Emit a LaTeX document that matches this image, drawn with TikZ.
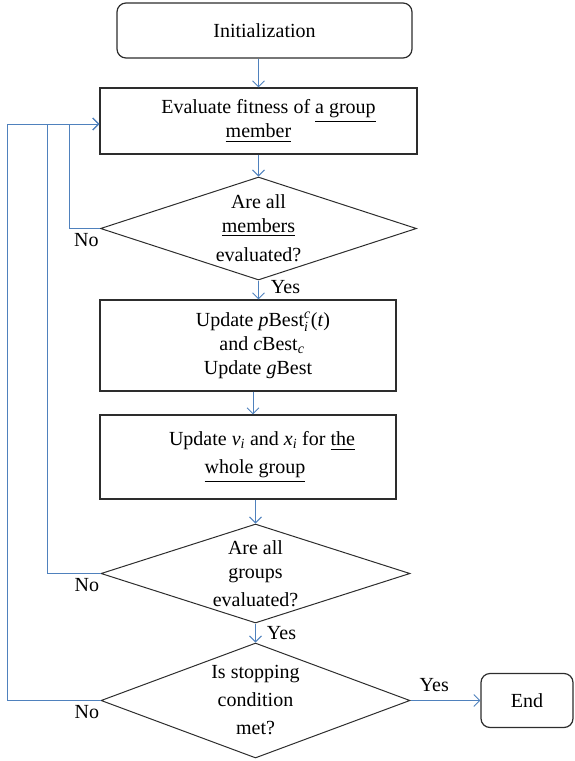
\documentclass[tikz,border=0pt]{standalone}
\usepackage{amsmath}
\usepackage{fontspec}
\setmainfont{Liberation Serif}
\usetikzlibrary{arrows.meta,shapes.geometric,positioning}
\definecolor{linkblue}{RGB}{79,129,189}
\definecolor{boxgray}{RGB}{45,45,45}

\begin{document}
\begin{tikzpicture}[x=1pt,y=-1pt,
  every node/.style={font=\fontsize{20}{24}\selectfont},
  box/.style={draw=boxgray,line width=1.2pt,rectangle,align=center,inner sep=0pt},
  term/.style={box,rounded corners=9pt},
  decision/.style={draw=boxgray,line width=1pt,diamond,aspect=3,align=center,inner sep=0pt},
  link/.style={draw=linkblue,line width=0.9pt,-{Straight Barb[length=6pt,width=12pt]}},
  answer/.style={inner sep=1pt}]
\useasboundingbox (0,0) rectangle (574,761);

% boxes
\node[term,minimum width=295,minimum height=55] (init) at (264.5,30.5) {Initialization};
\node[box,minimum width=317,minimum height=66] (eval) at (258.5,121) {\hspace*{20pt}Evaluate fitness of \underline{a group}\\\underline{member}};
\node[decision,minimum width=316,minimum height=103] (allmem) at (258.5,228.5) {Are all\\\underline{members}\\[5pt]evaluated?};
\node[box,minimum width=296,minimum height=91] (upd) at (248,345.5) {\hspace*{30pt}Update \textit{p}Best$^{\textit{c}}_{\textit{i}}$(\textit{t})\\\hspace*{28pt}and \textit{c}Best$_{\textit{c}}$\\\hspace*{20pt}Update \textit{g}Best};
\node[box,minimum width=296,minimum height=84] (move) at (248,457) {\hspace*{28pt}Update \textit{v}$_{\textit{i}}$ and \textit{x}$_{\textit{i}}$ for \underline{the}\\[4pt]\hspace*{14pt}\underline{whole group}};
\node[decision,minimum width=309,minimum height=99,aspect=3.1] (allgrp) at (255.5,573.5) {Are all\\groups\\[4pt]evaluated?};
\node[decision,minimum width=309,minimum height=115,aspect=2.7] (stop) at (255.5,700.5) {Is stopping\\[4pt]condition\\[4pt]met?};
\node[term,minimum width=92,minimum height=54] (end) at (527,700.5) {End};

% main flow
\draw[link] (eval.north |- init.south) -- (eval.north);
\draw[link] (eval.south) -- (allmem.north);
\draw[link] (allmem.south) -- node[answer,right=11pt,pos=0.35] (yes1) {Yes} (allmem.south |- upd.north);
\draw[link] ([xshift=5pt]upd.south) -- ([xshift=5pt]move.north);
\draw[link] (allgrp.north |- move.south) -- (allgrp.north);
\draw[link] (allgrp.south) -- node[answer,right=10pt] (yes2) {Yes} (stop.north);
\draw[link] (stop.east) -- node[answer,above=7pt,pos=0.34] (yes3) {Yes} (end.west);

% loops back
\draw[link] (allmem.west) node[answer,below left=3pt and 0pt] (no1) {No} -- ++(-31,0) |- ([yshift=-3pt]eval.west);
\draw[link] (allgrp.west) node[answer,below left=3pt and 0pt] (no2) {No} -- ++(-53,0) |- ([yshift=-3pt]eval.west);
\draw[link] (stop.west) node[answer,below left=3pt and 0pt] (no3) {No} -- ++(-93,0) |- ([yshift=-3pt]eval.west);
\end{tikzpicture}
\end{document}
